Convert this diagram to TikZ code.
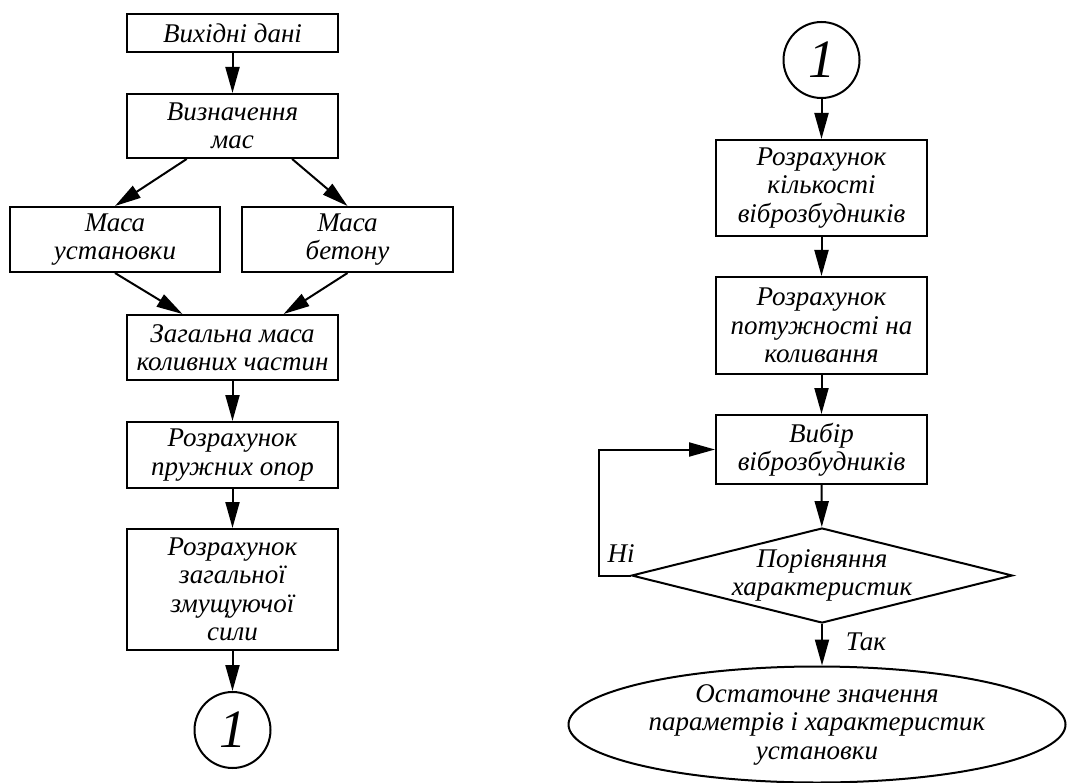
\documentclass[tikz,border=0pt]{standalone}
\usepackage{fontspec}
\setmainfont{Liberation Serif}
\usetikzlibrary{arrows.meta,shapes.geometric,calc}
\tikzset{
  txt/.style={font=\fontsize{27}{28.5}\selectfont\itshape},
  box/.style={draw, line width=2pt, rectangle, inner sep=0pt, align=center, txt},
  conn/.style={draw, line width=2pt, circle, minimum size=76pt, inner sep=0pt, font=\fontsize{54}{54}\selectfont\itshape},
  arr/.style={line width=2pt, -{Triangle[length=26pt,width=14pt]}},
  lbl/.style={txt, inner sep=0pt}
}
\begin{document}
\begin{tikzpicture}[x=1pt,y=-1pt]
\useasboundingbox (0,0) rectangle (1067,783);
% left column
\node[box, minimum width=211pt, minimum height=38pt] (a) at (232.5,33) {Вихідні дані};
\node[box, minimum width=211pt, minimum height=64pt] (b) at (232.5,126) {Визначення\\мас};
\node[box, minimum width=210pt, minimum height=65pt] (c) at (115,239.5) {Маса\\установки};
\node[box, minimum width=211pt, minimum height=65pt] (d) at (347.5,239.5) {Маса\\бетону};
\node[box, minimum width=211pt, minimum height=65pt] (e) at (232.5,347.5) {Загальна маса\\коливних частин};
\node[box, minimum width=211pt, minimum height=66pt] (f) at (232.5,455) {Розрахунок\\пружних опор};
\node[box, minimum width=211pt, minimum height=121pt] (g) at (232.5,589.5) {Розрахунок\\загальної\\змущуючої\\сили};
\node[conn] (h) at (232.5,730) {1};
\draw[arr] (a) -- (b);
\draw[arr] ($(b.south west)!0.285!(b.south east)$) -- (c.north);
\draw[arr] ($(b.south west)!0.78!(b.south east)$) -- (d.north);
\draw[arr] (c.south) -- ($(e.north west)!0.265!(e.north east)$);
\draw[arr] (d.south) -- ($(e.north west)!0.74!(e.north east)$);
\draw[arr] (e) -- (f);
\draw[arr] (f) -- (g);
\draw[arr] (g) -- (h);
% right column
\node[conn] (r1) at (821.5,60) {1};
\node[box, minimum width=211pt, minimum height=96pt] (k) at (821.5,188) {Розрахунок\\кількості\\віброзбудників};
\node[box, minimum width=211pt, minimum height=97pt] (l) at (821.5,325.5) {Розрахунок\\потужності на\\коливання};
\node[box, minimum width=211pt, minimum height=69pt] (m) at (821.5,449.5) {Вибір\\віброзбудників};
\node[draw, line width=2pt, diamond, aspect=4, minimum width=381pt, minimum height=95pt, inner sep=-12pt, align=center, txt] (n) at (822,575.5) {Порівняння\\характеристик};
\node[draw, line width=2pt, ellipse, minimum width=497pt, minimum height=116pt, inner sep=0pt, align=center, txt] (o) at (817,724.5) {Остаточне значення\\параметрів і характеристик\\установки};
\draw[arr] (r1) -- (k);
\draw[arr] (k) -- (l);
\draw[arr] (l) -- (m);
\draw[arr] (m) -- (n);
\draw[arr] (n.south) -- (n.south |- o.north);
\draw[arr] (n.west) -- ++(-32,0) |- (m.west);
\node[lbl] (ni) at (621,554) {Ні};
\node[lbl] (tak) at (866,642) {Так};
\end{tikzpicture}
\end{document}
